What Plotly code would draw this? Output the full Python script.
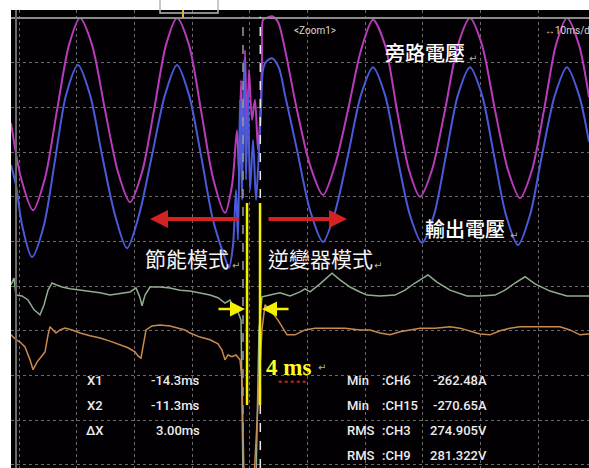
import plotly.graph_objects as go

# ---- time base (ms) and screen level (div) of each captured channel ----
bypass_t = [-54.51, -52.77, -50.69, -48.61, -46.53, -44.45, -42.55, -40.47, -38.21, -35.96,
            -33.88, -31.80, -29.72, -27.64, -25.74, -23.66, -21.58, -19.50, -17.42, -16.20,
            -15.34, -14.99, -14.64, -14.30, -13.95, -13.60, -13.26, -12.74, -12.22, -11.70,
            -11.35, -11.01, -10.83, -10.31, -9.27, -8.23, -7.19, -4.94, -2.69, -0.43,
            1.65, 3.90, 6.15, 8.23, 10.31, 12.39, 14.47, 16.38, 18.46, 20.71,
            22.96, 25.04, 27.12, 29.38, 31.63, 33.71, 35.79, 37.87, 39.95, 41.85,
            43.93, 45.67]
bypass_v = [7.65, 6.42, 5.70, 6.42, 7.94, 9.40, 10.00, 9.40, 7.94, 6.55,
            5.88, 6.55, 7.94, 9.40, 10.00, 9.40, 7.94, 6.42, 5.64, 6.26,
            7.49, 6.49, 8.61, 6.82, 9.28, 7.27, 8.84, 7.72, 8.17, 7.05,
            7.72, 9.06, 9.96, 10.00, 10.04, 9.91, 9.40, 7.94, 6.71, 6.04,
            6.71, 7.94, 9.28, 9.96, 9.40, 7.94, 6.60, 6.00, 6.60, 7.94,
            9.40, 10.00, 9.40, 7.94, 6.60, 5.97, 6.60, 7.94, 9.40, 10.00,
            9.40, 8.23]

output_t = [-54.51, -53.64, -52.60, -50.87, -48.79, -46.88, -44.97, -42.89, -40.81, -38.73,
            -36.48, -34.40, -32.32, -30.07, -27.82, -25.74, -23.66, -21.58, -19.50, -17.42,
            -16.72, -16.03, -15.51, -15.16, -14.82, -14.47, -14.12, -13.78, -13.43, -13.08,
            -12.56, -12.04, -11.53, -11.18, -10.83, -10.31, -9.27, -8.06, -7.02, -4.94,
            -2.69, -0.43, 1.65, 3.90, 6.15, 8.23, 10.31, 12.39, 14.64, 16.72,
            18.80, 20.88, 22.96, 25.04, 27.12, 29.20, 31.28, 33.36, 35.44, 37.52,
            39.77, 41.85, 43.93, 45.67]
output_v = [6.71, 6.26, 5.37, 4.65, 5.37, 6.82, 8.28, 8.95, 8.28, 6.93,
            5.59, 4.85, 5.59, 6.93, 8.28, 8.95, 8.28, 6.93, 5.48, 4.63,
            4.41, 4.92, 6.15, 5.03, 8.17, 5.93, 9.06, 6.38, 8.39, 6.15,
            7.27, 5.93, 7.05, 7.94, 8.84, 9.02, 9.10, 8.88, 8.28, 7.05,
            5.70, 4.99, 5.66, 6.93, 8.28, 8.90, 8.28, 6.93, 5.59, 4.97,
            5.59, 6.93, 8.28, 8.90, 8.28, 6.93, 5.59, 4.92, 5.59, 6.93,
            8.28, 8.90, 8.28, 7.23]

green_t = [-54.51, -53.99, -53.64, -52.60, -51.56, -50.52, -49.48, -48.79, -48.09, -47.40,
           -46.71, -45.67, -44.28, -42.55, -40.81, -39.08, -37.35, -35.62, -33.88, -32.84,
           -32.15, -31.80, -31.28, -30.42, -28.68, -26.95, -25.22, -23.48, -21.75, -20.02,
           -18.63, -17.42, -16.55, -15.86, -15.16, -14.64, -14.30, -12.04, -11.53, -11.01,
           -9.62, -7.89, -6.15, -4.42, -3.55, -2.69, -0.95, 0.09, 1.13, 2.51,
           4.25, 5.98, 7.19, 9.45, 12.05, 13.78, 15.51, 17.76, 19.32, 21.58,
           24.52, 26.78, 29.38, 31.11, 32.84, 34.58, 36.31, 38.91, 41.85, 45.67]
green_v = [4.03, 4.18, 3.80, 3.78, 3.69, 3.47, 3.36, 3.58, 3.91, 4.07,
           4.03, 3.98, 3.94, 3.91, 3.87, 3.85, 3.80, 3.83, 3.87, 3.96,
           3.74, 3.56, 3.80, 3.98, 3.98, 3.96, 3.91, 3.89, 3.85, 3.80,
           3.74, 3.62, 3.69, 3.51, 3.42, 3.24, -0.30, -0.30, 3.02, 3.76,
           3.80, 3.85, 3.78, 3.87, 3.94, 3.87, 4.05, 4.18, 4.29, 4.14,
           3.98, 3.87, 3.80, 3.78, 3.80, 3.91, 4.07, 4.25, 4.09, 3.91,
           3.78, 3.78, 3.80, 3.91, 4.07, 4.21, 4.05, 3.89, 3.78, 3.78]

orange_t = [-54.51, -53.64, -52.95, -52.08, -51.21, -50.69, -50.00, -49.48, -48.61, -48.09,
            -47.75, -47.23, -46.71, -46.01, -45.15, -43.93, -42.55, -40.81, -39.08, -37.35,
            -35.62, -34.23, -33.02, -32.50, -31.98, -31.63, -31.11, -30.07, -28.68, -26.95,
            -25.56, -24.35, -23.48, -21.75, -20.02, -18.63, -17.94, -17.42, -16.90, -16.20,
            -15.51, -14.82, -14.47, -14.12, -12.39, -11.70, -11.01, -10.49, -9.62, -8.23,
            -6.67, -5.29, -3.55, -1.82, 0.78, 3.38, 5.98, 7.71, 9.45, 11.18,
            12.91, 14.64, 16.38, 18.98, 21.58, 23.31, 25.04, 26.78, 28.51, 30.24,
            31.98, 33.71, 37.18, 40.64, 42.37, 44.11, 45.67]
orange_v = [2.91, 2.80, 2.75, 2.64, 2.35, 2.13, 2.30, 2.39, 2.53, 2.91,
            3.09, 3.02, 2.95, 3.02, 3.06, 3.02, 2.95, 2.89, 2.84, 2.77,
            2.68, 2.62, 2.53, 2.44, 2.39, 2.68, 3.02, 3.11, 3.13, 3.11,
            3.06, 3.02, 2.95, 2.86, 2.80, 2.71, 2.57, 2.35, 2.46, 2.42,
            2.46, 2.35, 1.90, -0.30, -0.30, 1.45, 3.02, 3.58, 3.47, 3.24,
            2.91, 2.91, 3.02, 3.06, 3.06, 3.06, 3.02, 3.02, 2.95, 2.91,
            2.98, 3.02, 3.06, 3.06, 3.09, 3.06, 3.00, 2.93, 2.91, 3.00,
            3.06, 3.09, 3.09, 3.09, 3.02, 2.91, 2.93]

# cursor positions (ms) and readouts
cursor_x1 = -14.3
cursor_x2 = -11.3
cursor_rows = [("X1", "-14.3ms"), ("X2", "-11.3ms"), ("ΔX", "3.00ms")]
meas_rows = [("Min", ":CH6", "-262.48A"), ("Min", ":CH15", "-270.65A"),
             ("RMS", ":CH3", "274.905V"), ("RMS", ":CH9", "281.322V")]
row_levels = [1.88, 1.32, 0.76, 0.20]

# transfer window markers
gap_lines_t = [-13.60, -11.35]
gap_top, gap_bottom = 5.86, 1.34

T_RANGE = [-54.51, 45.67]
V_RANGE = [-0.07, 10.18]

fig = go.Figure()

fig.add_trace(go.Scatter(x=bypass_t, y=bypass_v, mode="lines",
                         line=dict(color="#b83cba", width=2, shape="spline", smoothing=0.8),
                         hoverinfo="skip"))
fig.add_trace(go.Scatter(x=output_t, y=output_v, mode="lines",
                         line=dict(color="#4a5ad8", width=2, shape="spline", smoothing=0.8),
                         hoverinfo="skip"))
fig.add_trace(go.Scatter(x=green_t, y=green_v, mode="lines",
                         line=dict(color="#8fae8f", width=1.5),
                         hoverinfo="skip"))
fig.add_trace(go.Scatter(x=orange_t, y=orange_v, mode="lines",
                         line=dict(color="#c98a50", width=1.5),
                         hoverinfo="skip"))

shapes = []
# screen frame lines
shapes.append(dict(type="line", xref="x", yref="y", x0=T_RANGE[0], x1=T_RANGE[1], y0=10, y1=10,
                   line=dict(color="#8a8a8a", width=2)))
shapes.append(dict(type="line", xref="x", yref="paper", x0=-53.64, x1=-53.64, y0=0, y1=1,
                   line=dict(color="#6a6a6a", width=2)))
# cursors
shapes.append(dict(type="line", xref="x", yref="paper", x0=cursor_x1, x1=cursor_x1, y0=0, y1=0.985,
                   line=dict(color="#9a9a9a", width=1.5, dash="dash")))
shapes.append(dict(type="line", xref="x", yref="paper", x0=cursor_x2, x1=cursor_x2, y0=0, y1=0.985,
                   line=dict(color="#e8e8e8", width=1.5, dash="dash")))
# yellow window lines
for gt in gap_lines_t:
    shapes.append(dict(type="line", xref="x", yref="y", x0=gt, x1=gt, y0=gap_bottom, y1=gap_top,
                       line=dict(color="#f4f000", width=2.5)))
# top indicator box and trigger tick
shapes.append(dict(type="rect", xref="paper", yref="paper", x0=0.2578, x1=0.3581, y0=0.9934, y1=1.05,
                   line=dict(color="#b8b8b8", width=1.5)))
shapes.append(dict(type="line", xref="paper", yref="paper", x0=0.2976, x1=0.2976, y0=0.983, y1=1.0,
                   line=dict(color="#e0b040", width=2)))
# spelling squiggle under the "ms"
shapes.append(dict(type="line", xref="x", yref="y", x0=-8.1, x1=-3.3, y0=1.86, y1=1.86,
                   line=dict(color="#d02020", width=2, dash="dot")))

ann = []
cjk = "Noto Sans CJK TC"
ann.append(dict(x=17.24, y=9.24, text="旁路電壓", showarrow=False, xref="x", yref="y",
                font=dict(family=cjk, size=20, color="#ffffff", weight=500)))
ann.append(dict(x=24.18, y=5.28, text="輸出電壓", showarrow=False, xref="x", yref="y",
                font=dict(family=cjk, size=20, color="#ffffff", weight=500)))
ann.append(dict(x=-23.92, y=4.63, text="節能模式", showarrow=False, xref="x", yref="y",
                font=dict(family=cjk, size=21, color="#f4f4f4")))
ann.append(dict(x=-0.95, y=4.63, text="逆變器模式", showarrow=False, xref="x", yref="y",
                font=dict(family=cjk, size=21, color="#f4f4f4")))
for rx, ry in [(25.6, 9.10), (32.6, 5.14), (-15.5, 4.47), (9.1, 4.47), (-0.61, 2.19)]:
    ann.append(dict(x=rx, y=ry, text="↵", showarrow=False, xref="x", yref="y",
                    font=dict(family="DejaVu Sans", size=10, color="#b0b0b0")))

ann.append(dict(x=-10.6, y=2.19, text="<b>4 ms</b>", showarrow=False, xref="x", yref="y",
                xanchor="left", font=dict(family="Liberation Serif", size=23, color="#ffff20")))

small = dict(family="Roboto", size=10, color="#d8d8d8")
ann.append(dict(x=-5.8, y=9.73, text="<Zoom1>", showarrow=False, xref="x", yref="y",
                xanchor="left", font=small))
ann.append(dict(x=37.7, y=9.73, text="↔10ms/div", showarrow=False, xref="x", yref="y",
                xanchor="left", font=small))

ro = dict(family="Roboto", size=13, color="#ececec", weight=500)
for (lab, val), lv in zip(cursor_rows, row_levels):
    ann.append(dict(x=-39.9, y=lv, text=lab, showarrow=False, xref="x", yref="y",
                    xanchor="center", font=ro))
    ann.append(dict(x=-21.4, y=lv, text=val, showarrow=False, xref="x", yref="y",
                    xanchor="right", font=ro))
for (kind, ch, val), lv in zip(meas_rows, row_levels):
    ann.append(dict(x=3.38, y=lv, text=kind, showarrow=False, xref="x", yref="y",
                    xanchor="left", font=ro))
    ann.append(dict(x=9.45, y=lv, text=ch, showarrow=False, xref="x", yref="y",
                    xanchor="left", font=ro))
    ann.append(dict(x=28.33, y=lv, text=val, showarrow=False, xref="x", yref="y",
                    xanchor="right", font=ro))

# mode arrows
ann.append(dict(x=-30.42, y=5.50, ax=-14.82, ay=5.50, axref="x", ayref="y", xref="x", yref="y",
                text="", showarrow=True, arrowhead=2, arrowsize=0.9, arrowwidth=4, arrowcolor="#d42222"))
ann.append(dict(x=3.73, y=5.50, ax=-10.14, ay=5.50, axref="x", ayref="y", xref="x", yref="y",
                text="", showarrow=True, arrowhead=2, arrowsize=0.9, arrowwidth=4, arrowcolor="#d42222"))
# transfer gap arrows
ann.append(dict(x=-13.95, y=3.49, ax=-18.80, ay=3.49, axref="x", ayref="y", xref="x", yref="y",
                text="", showarrow=True, arrowhead=2, arrowsize=1.2, arrowwidth=2.5, arrowcolor="#f4f000"))
ann.append(dict(x=-11.01, y=3.49, ax=-6.15, ay=3.49, axref="x", ayref="y", xref="x", yref="y",
                text="", showarrow=True, arrowhead=2, arrowsize=1.2, arrowwidth=2.5, arrowcolor="#f4f000"))

fig.update_layout(
    width=589, height=468,
    margin=dict(l=11, r=0, t=10, b=0),
    paper_bgcolor="#ffffff", plot_bgcolor="#030003",
    showlegend=False, shapes=shapes, annotations=ann,
    xaxis=dict(range=T_RANGE, tick0=-3.12, dtick=10, showgrid=True, gridcolor="#6a6a6a",
               griddash="dot", gridwidth=1, zeroline=False, showticklabels=False, ticks=""),
    yaxis=dict(range=V_RANGE, tick0=0, dtick=1, showgrid=True, gridcolor="#6a6a6a",
               griddash="dot", gridwidth=1, zeroline=False, showticklabels=False, ticks=""),
)

fig.write_html("out.html")
